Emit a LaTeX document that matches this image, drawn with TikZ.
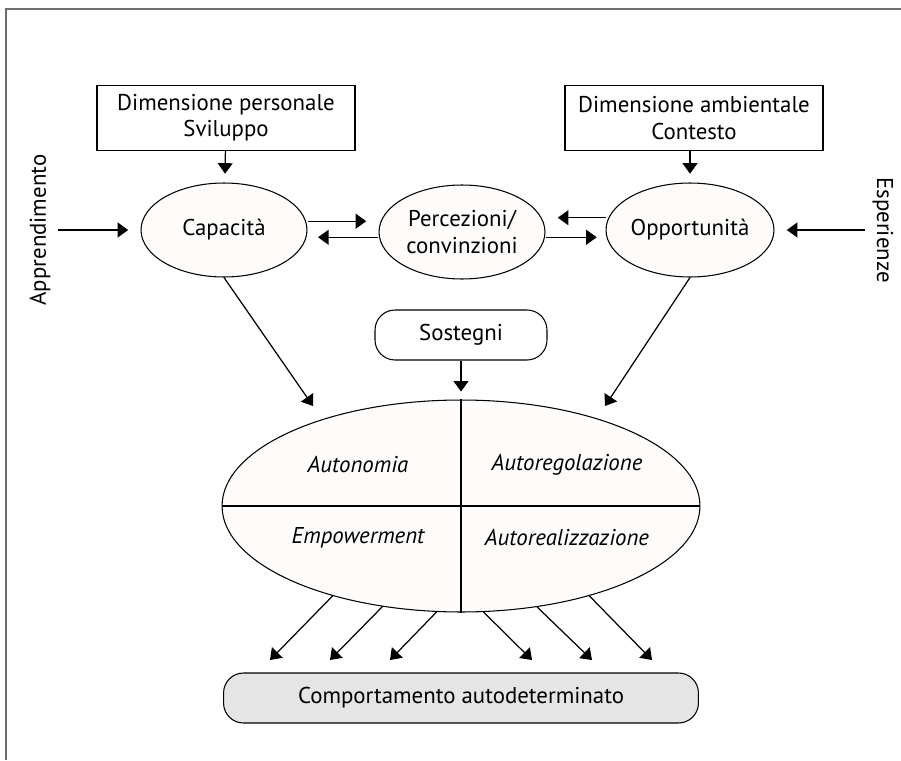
\documentclass[tikz,border=0pt]{standalone}
\usepackage{fontspec}
\setmainfont{PT Sans}
\usetikzlibrary{shapes.geometric,arrows.meta}
\definecolor{ovalfill}{RGB}{253,252,250}
\definecolor{framegray}{RGB}{110,110,110}

\begin{document}
\begin{tikzpicture}[x=0.02cm,y=-0.02cm,>={Triangle[length=6pt,width=8.5pt]},
  every node/.style={font=\fontsize{13}{15}\selectfont},
  dimbox/.style={draw,line width=0.8pt,minimum width=5.16cm,minimum height=1.3cm,align=center},
  oval/.style={ellipse,draw,line width=0.6pt,fill=ovalfill,minimum width=3.32cm,minimum height=1.88cm,inner sep=0pt,align=center},
  roundbox/.style={draw,line width=0.6pt,rounded corners=0.4cm,minimum height=1cm},
  link/.style={->,line width=0.7pt}]
\useasboundingbox (0,0) rectangle (901,760);
% frame
\draw[framegray,line width=1.3pt] (6,760) -- (6,9) -- (901,9);

% top boxes
\node[dimbox] (pers) at (226,118) {Dimensione personale\\Sviluppo};
\node[dimbox] (amb) at (694,118) {Dimensione ambientale\\Contesto};

% side labels
\node[rotate=90,inner sep=4pt] (app) at (40,230) {Apprendimento};
\node[rotate=-90,inner sep=4pt] (esp) at (883,230) {Esperienze};

% ovals
\node[oval] (cap) at (224,230) {Capacità};
\node[oval] (perc) at (462,232) {Percezioni/\\convinzioni};
\node[oval] (opp) at (690,230) {Opportunità};

\draw[link,shorten >=5pt] (pers) -- (cap);
\draw[link,shorten >=5pt] (amb.south -| opp) -- (opp);
\draw[link,shorten >=7pt] (app.south) -- (cap);
\draw[link,shorten >=7pt] (esp.south) -- (opp);

\draw[link,shorten >=7pt] ([yshift=5pt]cap.east) -- ([yshift=5pt]cap.east -| perc.west);
\draw[link,shorten >=6pt] ([yshift=-3pt]perc.west) -- ([yshift=-3pt]perc.west -| cap.east);
\draw[link,shorten >=7pt] ([yshift=7pt]opp.west) -- ([yshift=7pt]opp.west -| perc.east);
\draw[link,shorten >=5pt] ([yshift=-3pt]perc.east) -- ([yshift=-3pt]perc.east -| opp.west);

% supports and the four components
\node[roundbox,minimum width=3.44cm] (sost) at (461,335) {Sostegni};
\node[ellipse,draw,line width=0.6pt,fill=ovalfill,minimum width=9.56cm,minimum height=4.24cm,inner sep=0pt] (comp) at (461,506) {};
\draw[line width=0.7pt] (comp.north) -- (comp.south);
\draw[line width=0.7pt] (comp.west) -- (comp.east);
\node (auton) at (358,465) {\itshape Autonomia};
\node (autor) at (567,465) {\itshape Autoregolazione};
\node (empow) at (358,538) {\itshape Empowerment};
\node (autore) at (567,538) {\itshape Autorealizzazione};

\coordinate (capin) at (313,406);
\coordinate (oppin) at (605,406);
\draw[link] (cap.south) -- (capin);
\draw[link] (opp.south) -- (oppin);
\draw[link,shorten >=4.5pt] (sost) -- (comp.north);

% outcome
\node[roundbox,fill=gray!20,minimum width=9.5cm] (behav) at (461,698) {Comportamento autodeterminato};
\foreach \ang/\tx in {215/270,232.3/330,257.2/390,282.8/532,307.7/592,325/652}
  \draw[link] (comp.\ang) -- (\tx,660);
\end{tikzpicture}
\end{document}
